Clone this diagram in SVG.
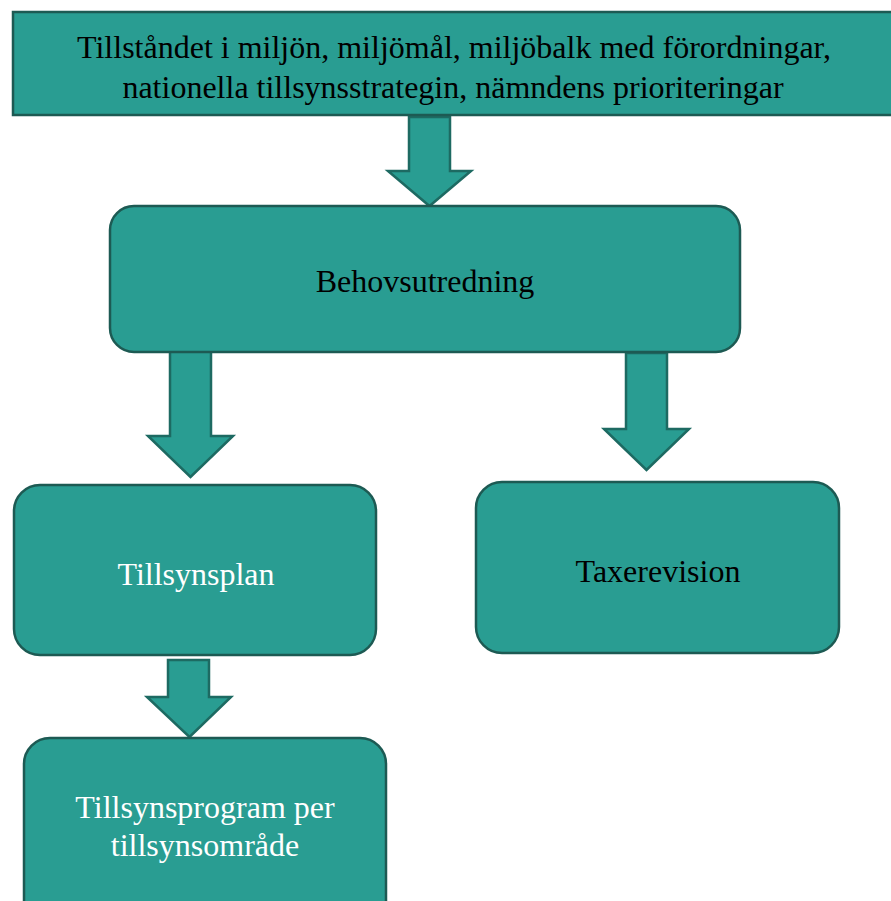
<svg xmlns="http://www.w3.org/2000/svg" width="891" height="901" viewBox="0 0 891 901">
<style>
.box{fill:#299d92;stroke:#1d5a53;stroke-width:2.5}
.arr{fill:#299d92;stroke:#1d6a62;stroke-width:2.5;stroke-linejoin:miter}
text{font-family:"Liberation Serif","Times New Roman",serif;font-size:32px;text-anchor:middle}
.dk{fill:#000}
.wt{fill:#fff}
</style>
<rect width="891" height="901" fill="#fff"/>
<g id="connectors">
<polygon class="arr" points="409,117 450,117 450,171 471,171 429.5,206 388,171 409,171"/>
<polygon class="arr" points="170,351 211,351 211,436 233,436 190.5,477 148,436 170,436"/>
<polygon class="arr" points="626,353 667,353 667,429 689,429 646.5,470 604,429 626,429"/>
<polygon class="arr" points="168,660 209,660 209,697 231,697 189.5,737 147,697 168,697"/>
</g>
<g id="n-top">
<rect class="box" x="13" y="12" width="890" height="103"/>
<text class="dk" x="454" y="58">Tillståndet i miljön, miljömål, miljöbalk med förordningar,</text>
<text class="dk" x="453" y="98">nationella tillsynsstrategin, nämndens prioriteringar</text>
</g>
<g id="n-behov">
<rect class="box" x="110" y="206" width="630" height="146" rx="24"/>
<text class="dk" x="425" y="292">Behovsutredning</text>
</g>
<g id="n-plan">
<rect class="box" x="14" y="485" width="362" height="170" rx="26"/>
<text class="wt" x="196" y="585">Tillsynsplan</text>
</g>
<g id="n-taxe">
<rect class="box" x="476" y="482" width="363" height="171" rx="26"/>
<text class="dk" x="658" y="582">Taxerevision</text>
</g>
<g id="n-program">
<rect class="box" x="24" y="738" width="362" height="190" rx="26"/>
<text class="wt" x="205" y="818">Tillsynsprogram per</text>
<text class="wt" x="205" y="856">tillsynsområde</text>
</g>
</svg>
